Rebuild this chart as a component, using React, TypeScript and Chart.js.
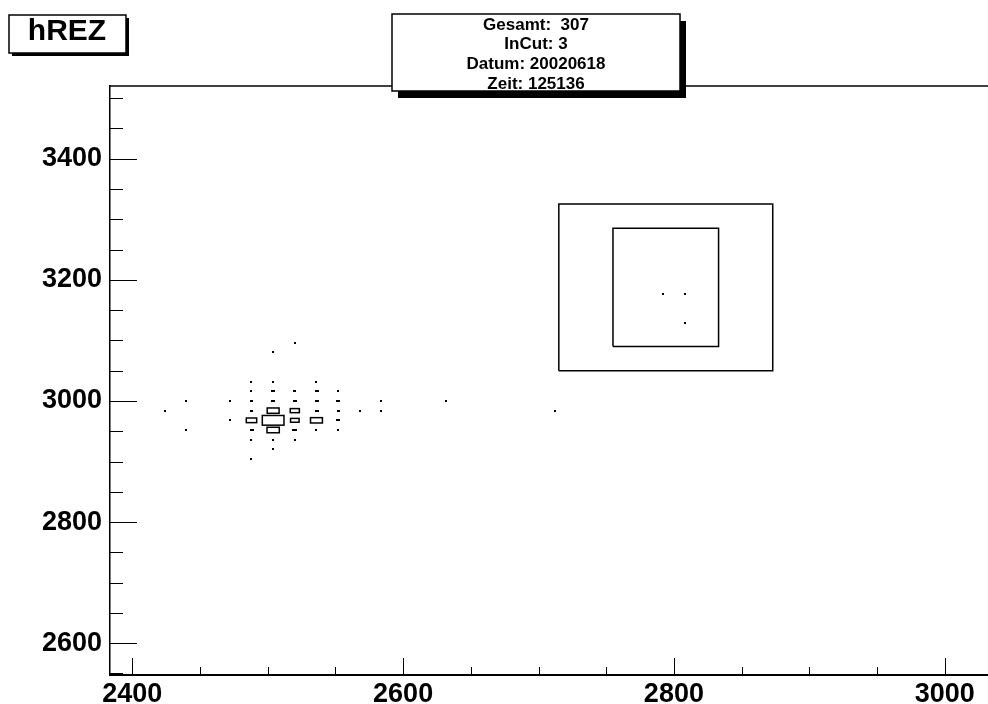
import React, { useEffect, useRef } from 'react';
import { Chart, registerables } from 'chart.js';

Chart.register(...registerables);

// ---- data ----
const histTitle = 'hREZ';
const statsLines = ['Gesamt:  307', 'InCut: 3', 'Datum: 20020618', 'Zeit: 125136'];

const binX = [
  2520,
  2504,
  2488, 2504, 2536,
  2488, 2504, 2520, 2536, 2552,
  2440, 2472, 2488, 2504, 2520, 2536, 2552, 2584, 2632,
  2424, 2488, 2504, 2520, 2536, 2552, 2568, 2584, 2712,
  2472, 2488, 2504, 2520, 2536, 2552,
  2440, 2488, 2504, 2520, 2536, 2552,
  2488, 2504, 2520,
  2504,
  2488,
  2792, 2808, 2808,
];
const binY = [
  3096,
  3080,
  3032, 3032, 3032,
  3016, 3016, 3016, 3016, 3016,
  3000, 3000, 3000, 3000, 3000, 3000, 3000, 3000, 3000,
  2984, 2984, 2984, 2984, 2984, 2984, 2984, 2984, 2984,
  2968, 2968, 2968, 2968, 2968, 2968,
  2952, 2952, 2952, 2952, 2952, 2952,
  2936, 2936, 2936,
  2920,
  2904,
  3176, 3176, 3128,
];
const binCounts = [
  1,
  1,
  1, 1, 1,
  1, 3, 2, 3, 1,
  1, 1, 2, 3, 3, 3, 3, 1, 1,
  1, 2, 29, 17, 3, 2, 1, 1, 1,
  1, 22, 96, 15, 29, 3,
  1, 3, 31, 6, 1, 1,
  1, 1, 1,
  1,
  1,
  1, 1, 1,
];
const binWidth = 16;

const innerCutX = [2755, 2833];
const innerCutY = [3090, 3285];
const outerCutX = [2715, 2873];
const outerCutY = [3050, 3325];

const xRange = [2383.5, 3032];
const yRange = [2547.5, 3520];
const xTickLabels = [2400, 2600, 2800, 3000];
const yTickLabels = [2600, 2800, 3000, 3200, 3400];
const tickStep = 50;

const FONT = '"Liberation Sans", Arial, Helvetica, sans-serif';

function rectPath(xs: number[], ys: number[]) {
  return [
    { x: xs[0], y: ys[0] },
    { x: xs[1], y: ys[0] },
    { x: xs[1], y: ys[1] },
    { x: xs[0], y: ys[1] },
    { x: xs[0], y: ys[0] },
  ];
}

const rootPlugin = {
  id: 'rootDecor',
  beforeDraw(chart: any) {
    const ctx = chart.ctx;
    ctx.save();
    ctx.fillStyle = '#fff';
    ctx.fillRect(0, 0, chart.width, chart.height);
    ctx.restore();
  },
  afterDatasetsDraw(chart: any) {
    const ctx = chart.ctx;
    const xs = chart.scales.x;
    const ys = chart.scales.y;
    const data = chart.data.datasets[0].data as any[];
    let maxC = 0;
    data.forEach((d) => { if (d.c > maxC) maxC = d.c; });
    ctx.save();
    ctx.strokeStyle = '#000';
    ctx.fillStyle = '#000';
    ctx.lineWidth = 1.5;
    data.forEach((d) => {
      const frac = Math.sqrt(d.c / maxC);
      const x0 = xs.getPixelForValue(d.x - binWidth / 2);
      const x1 = xs.getPixelForValue(d.x + binWidth / 2);
      const y0 = ys.getPixelForValue(d.y + binWidth / 2);
      const y1 = ys.getPixelForValue(d.y - binWidth / 2);
      const cx = (x0 + x1) / 2;
      const cy = (y0 + y1) / 2;
      const w = (x1 - x0) * frac;
      const h = (y1 - y0) * frac;
      if (w < 4.5 || h < 3) {
        const ww = Math.max(w, 2);
        const hh = Math.max(h, 2);
        ctx.fillRect(Math.round(cx - ww / 2), Math.round(cy - hh / 2), Math.round(ww), Math.round(hh));
      } else {
        ctx.strokeRect(cx - w / 2, cy - h / 2, w, h);
      }
    });
    ctx.restore();
  },
  afterDraw(chart: any) {
    const ctx = chart.ctx;
    const xs = chart.scales.x;
    const ys = chart.scales.y;
    const area = chart.chartArea;
    ctx.save();
    ctx.strokeStyle = '#000';
    // top frame line
    ctx.lineWidth = 1.5;
    ctx.beginPath();
    ctx.moveTo(area.left, area.top);
    ctx.lineTo(area.right, area.top);
    ctx.stroke();
    // tick marks
    ctx.lineWidth = 1;
    ctx.beginPath();
    const xStart = Math.ceil(xRange[0] / tickStep) * tickStep;
    for (let v = xStart; v <= xRange[1]; v += tickStep) {
      const px = Math.round(xs.getPixelForValue(v)) + 0.5;
      const len = v % 200 === 0 ? 17 : 8;
      ctx.moveTo(px, area.bottom);
      ctx.lineTo(px, area.bottom - len);
    }
    const yStart = Math.ceil(yRange[0] / tickStep) * tickStep;
    for (let v = yStart; v <= yRange[1]; v += tickStep) {
      const py = Math.round(ys.getPixelForValue(v)) + 0.5;
      const len = v % 200 === 0 ? 27 : 13;
      ctx.moveTo(area.left, py);
      ctx.lineTo(area.left + len, py);
    }
    ctx.stroke();

    // title box
    const tb = { x: 9, y: 15, w: 117, h: 38 };
    ctx.fillStyle = '#000';
    ctx.fillRect(tb.x + 3, tb.y + 3, tb.w, tb.h);
    ctx.fillStyle = '#fff';
    ctx.fillRect(tb.x, tb.y, tb.w, tb.h);
    ctx.lineWidth = 1.5;
    ctx.strokeRect(tb.x, tb.y, tb.w, tb.h);
    ctx.fillStyle = '#000';
    ctx.font = `bold 30px ${FONT}`;
    ctx.textAlign = 'center';
    ctx.textBaseline = 'alphabetic';
    ctx.fillText(histTitle, 67, 40);

    // stats box
    const sb = { x: 392, y: 14, w: 288, h: 77 };
    ctx.fillStyle = '#000';
    ctx.fillRect(sb.x + 6, sb.y + 7, sb.w, sb.h);
    ctx.fillStyle = '#fff';
    ctx.fillRect(sb.x, sb.y, sb.w, sb.h);
    ctx.lineWidth = 1.5;
    ctx.strokeRect(sb.x, sb.y, sb.w, sb.h);
    ctx.fillStyle = '#000';
    ctx.font = `bold 17px ${FONT}`;
    statsLines.forEach((line, i) => {
      ctx.fillText(line, sb.x + sb.w / 2, 29.5 + i * 19.7);
    });
    ctx.restore();
  },
};

export default function App() {
  const canvasRef = useRef<HTMLCanvasElement | null>(null);

  useEffect(() => {
    const canvas = canvasRef.current;
    if (!canvas) return;
    const bins = binX.map((x, i) => ({ x, y: binY[i], c: binCounts[i] }));
    const tickFont = { family: FONT, size: 27, weight: 'bold' as const };
    const chart = new Chart(canvas, {
      type: 'scatter',
      data: {
        datasets: [
          {
            label: 'hREZ',
            data: bins,
            pointRadius: 0,
            pointHoverRadius: 0,
            showLine: false,
          },
          {
            label: 'outer cut',
            data: rectPath(outerCutX, outerCutY),
            showLine: true,
            borderColor: '#000',
            borderWidth: 1.5,
            pointRadius: 0,
            fill: false,
            tension: 0,
          },
          {
            label: 'inner cut',
            data: rectPath(innerCutX, innerCutY),
            showLine: true,
            borderColor: '#000',
            borderWidth: 1.5,
            pointRadius: 0,
            fill: false,
            tension: 0,
          },
        ],
      },
      options: {
        responsive: false,
        animation: false,
        devicePixelRatio: 1,
        layout: { padding: { top: 86, left: 0, right: 0, bottom: 0 } },
        plugins: {
          legend: { display: false },
          tooltip: { enabled: false },
          title: { display: false },
        },
        events: [],
        scales: {
          x: {
            type: 'linear',
            position: 'bottom',
            min: xRange[0],
            max: xRange[1],
            grid: { display: false, drawTicks: false },
            border: { display: true, color: '#000', width: 2 },
            ticks: {
              color: '#000',
              font: tickFont,
              padding: 3,
              maxRotation: 0,
              autoSkip: false,
              callback: (v: any) => String(v),
            },
            afterBuildTicks: (s: any) => {
              s.ticks = xTickLabels.map((v) => ({ value: v }));
            },
            afterFit: (s: any) => {
              s.height = 29;
            },
          },
          y: {
            type: 'linear',
            position: 'left',
            min: yRange[0],
            max: yRange[1],
            grid: { display: false, drawTicks: false },
            border: { display: true, color: '#000', width: 1.5 },
            ticks: {
              color: '#000',
              font: tickFont,
              padding: 8,
              autoSkip: false,
              callback: (v: any) => String(v),
            },
            afterBuildTicks: (s: any) => {
              s.ticks = yTickLabels.map((v) => ({ value: v }));
            },
            afterFit: (s: any) => {
              s.width = 110;
            },
          },
        },
      },
      plugins: [rootPlugin],
    });
    return () => chart.destroy();
  }, []);

  return (
    <div style={{ position: 'absolute', left: 0, top: 0, width: 988, height: 704, background: '#fff' }}>
      <canvas ref={canvasRef} width={988} height={704} style={{ display: 'block', width: 988, height: 704 }} />
    </div>
  );
}
